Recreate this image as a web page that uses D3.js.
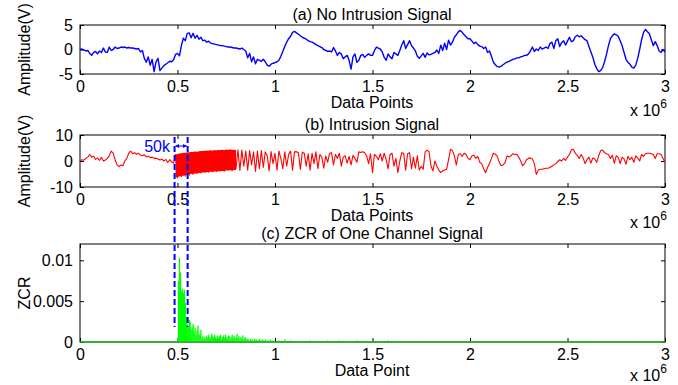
<!DOCTYPE html>
<html>
<head>
<meta charset="utf-8">
<script src="https://cdn.jsdelivr.net/npm/d3@7/dist/d3.min.js"></script>
<style>
  body { margin: 0; background: #fff; }
  svg text { font-family: "Liberation Sans", Arial, sans-serif; font-size: 16px; fill: #000; }
</style>
</head>
<body>
<svg id="chart" width="678" height="385"></svg>
<script>
// x is in units of 1e6 data points; both signals are sampled every STEP
const STEP = 0.01;

const noIntrusion = [
  0.0, 0.1, -0.1, -0.3, -0.2, -0.8, -1.2, -0.6, -0.4, -0.9, -0.3,
  -0.6, 0.3, -0.5, -0.6, 0.5, -0.2, 0.0, 0.5, 0.2, 0.3,
  0.5, 0.4, 0.5, 0.3, 0.4, 0.3, 0.3, 0.2, 0.1, 0.2,
  -0.5, -0.2, -1.8, -2.6, -1.5, -3.2, -2.0, -4.5, -2.5, -1.8,
  -4.3, -3.8, -3.3, -3.0, -2.7, -2.4, -2.5, -2.1, -1.0, -0.8,
  -1.3, 0.8, 2.3, 1.8, 3.3, 3.4, 2.4, 3.3, 2.3, 2.9,
  2.1, 2.5, 1.8, 1.9, 1.5, 1.7, 1.3, 1.2, 1.1, 1.0,
  0.9, 0.8, 0.8, 0.7, 0.6, 0.5, 0.5, 0.4, 0.3, 0.3,
  0.2, 0.1, 0.3, 0.0, -0.3, -1.7, -0.8, -2.5, -1.5, -2.9,
  -2.0, -2.2, -2.4, -2.0, -2.5, -3.2, -3.4, -3.0, -2.8, -2.7,
  -2.5, -2.2, -1.4, -0.4, 0.6, 1.5, 2.2, 2.7, 3.5, 3.7,
  3.4, 3.1, 2.8, 2.5, 2.3, 2.1, 1.8, 1.6, 1.5, 1.3,
  1.0, 0.8, 0.6, 0.4, 0.0, -0.2, -0.4, -0.3, -0.5, 0.4,
  -0.3, -1.2, -0.6, -0.9, -1.9, -1.5, -1.2, -2.2, -4.0, -1.5,
  -0.9, -2.6, -2.2, -1.2, -1.0, -1.6, -1.2, -0.9, -1.2, -1.2,
  -0.2, 0.5, 0.3, 0.1, -0.5, -1.6, -2.2, -0.9, -1.5, -1.9,
  -0.6, -0.9, -1.2, -0.2, 0.9, 1.8, 0.2, 1.0, 1.8, 0.8,
  0.3, -0.3, -1.4, -1.8, -1.3, -0.8, -1.6, -0.7, -1.1, -1.0,
  -0.8, -0.6, -0.1, -0.8, 0.9, -0.2, 1.3, 0.0, 1.9, 0.9,
  1.5, 2.5, 3.0, 3.6, 3.9, 3.5, 3.0, 2.6, 2.2, 2.2,
  1.7, 1.2, 1.5, 1.0, 0.7, 0.6, 0.2, 0.5, -0.6, -0.3,
  -1.4, -2.6, -3.1, -3.5, -3.6, -3.4, -3.1, -2.8, -2.6, -2.4,
  -2.2, -2.0, -1.9, -1.7, -1.7, -1.5, -1.4, -1.2, -1.2, -0.9,
  -0.3, 0.5, -0.4, 0.1, -0.2, 0.5, 0.1, 0.3, 0.5, 0.2,
  1.2, 1.5, 0.2, 1.8, 2.2, 0.6, 1.4, 1.8, 0.9, 1.7,
  2.5, 1.6, 1.8, 2.6, 2.9, 2.6, 2.8, 2.4, 2.0, 1.8,
  0.6, -0.5, -1.6, -3.0, -3.9, -4.5, -4.3, -3.7, -2.5, -1.0,
  0.8, 2.2, 2.8, 3.2, 3.0, 2.7, 1.8, 0.8, -0.6, -2.0,
  -2.6, -3.0, -3.6, -3.8, -3.2, -1.8, 0.0, 2.0, 3.5, 4.1,
  3.6, 3.2, 2.0, 0.8, 1.6, 0.8, -0.3, -0.6, 0.0, -0.5
];

const intrusion = [
  0.0, 0.5, 0.3, 1.0, 1.5, 2.5, 1.5, 1.8, 0.6, 1.2, 0.2,
  1.4, 0.0, 0.4, 1.0, 2.0, 3.8, 3.0, 0.5, -1.5, -2.2,
  -1.5, -1.8, 0.0, 1.0, 3.0, 3.8, 2.8, 3.2, 2.6, 3.0,
  2.2, 2.0, 2.4, 1.6, 1.8, 1.3, 1.5, 1.0, 1.1, 0.8,
  0.4, 0.7, 0.0, 0.6, -0.6, 0.5, -0.3, -0.8, 2.5, -6.4,
  2.8, -6.0, 3.0, -5.8, 3.2, -5.5, 3.3, -5.2, 3.5, -4.8,
  3.6, -4.6, 3.7, -4.4, 3.8, -4.3, 3.9, -4.1, 4.0, -4.0,
  4.1, -3.6, 4.2, -3.9, 4.2, -2.5, 4.3, -3.8, 4.2, -3.0,
  4.3, -3.6, 4.2, -2.0, 3.8, -3.5, 4.0, -1.5, 3.5, -4.0,
  3.8, -3.0, 4.0, -2.5, 3.5, 2.0, -3.8, 3.6, -1.0, 3.0,
  -3.5, 3.8, 1.0, -3.0, 3.5, -2.0, 2.5, 3.8, -3.5, 3.5,
  3.6, 3.2, -3.2, 3.4, 3.0, -2.0, 2.8, -3.5, 3.0, -1.0,
  3.5, -3.0, 2.5, 1.5, -2.8, 2.0, -0.5, 3.0, 3.2, -1.5,
  2.6, 1.0, 3.0, -2.0, 1.5, 2.0, -0.8, 1.8, -1.5, 2.2,
  1.0, -0.5, 3.5, 3.3, 3.6, 3.2, 2.0, -1.0, 2.8, -4.5,
  2.5, 1.8, 0.5, 2.8, 0.0, 3.0, 0.5, -3.0, 2.5, 3.0,
  -2.0, 1.0, -4.5, 0.0, 3.2, 3.0, -3.5, 2.8, 3.2, -3.0,
  1.5, -2.8, 2.0, -3.5, -2.0, -3.2, 3.5, 4.2, 3.5, -2.0,
  -3.8, 0.0, -2.0, -3.5, -4.5, -3.8, -3.5, -3.2, 0.5, 4.5,
  4.0, 2.0, -1.5, 2.5, 2.8, 1.8, 3.0, 2.5, 1.0, 0.5,
  2.0, 2.2, 1.0, 1.8, -0.5, -1.0, -3.0, -4.5, -2.5, -1.0,
  1.0, 3.0, 2.6, 1.8, -0.5, -1.8, -1.5, -0.6, 2.0, 1.5,
  2.0, 2.8, 2.5, 2.6, 1.5, 0.0, -1.8, -1.0, 0.5, 1.0,
  1.2, 0.8, -1.0, -5.2, -3.5, -3.2, -3.2, -3.0, -2.8, -2.8,
  -2.5, -2.0, -1.5, -1.0, -0.2, 0.5, 0.0, 1.0, 0.2, 1.5,
  2.5, 4.2, 4.5, 3.0, 2.2, 1.0, 2.5, 1.2, -1.0, 0.5,
  1.5, -0.8, 1.2, 0.8, -0.5, 2.0, 4.0, 4.2, 3.2, 2.8,
  2.5, 1.0, 2.2, -0.8, 2.0, 1.5, -1.0, 1.5, 0.8, -1.2,
  1.8, 0.5, 1.5, -0.5, 2.0, 1.2, 0.0, 2.5, 1.8, 2.8,
  3.0, 3.0, 2.8, 2.5, 1.0, 2.8, 2.8, 2.5, 1.0, -0.5
];

// envelope of the solid burst right after the intrusion starts
const burstStart = 0.49;
const burstTop = [2.5, 2.7, 2.8, 3.0, 3.1, 3.2, 3.3, 3.4, 3.5, 3.5, 3.6, 3.6,
  3.7, 3.8, 3.8, 3.9, 3.9, 4.0, 4.0, 4.0, 4.1, 4.1, 4.1, 4.2,
  4.2, 4.2, 4.3, 4.3, 4.3, 4.3, 4.2, 4.2];
const burstBot = [-6.4, -6.2, -6.0, -5.8, -5.7, -5.5, -5.3, -5.1, -5.0, -4.9, -4.8, -4.7,
  -4.6, -4.5, -4.4, -4.3, -4.3, -4.2, -4.1, -4.1, -4.0, -4.0, -3.9, -3.9,
  -3.8, -3.8, -3.7, -3.7, -3.6, -3.6, -3.5, -3.5];

const zcrStart = 0.5, zcrStep = 0.005;
const zcrValues = [
  0.0, 0.0075, 0.0103, 0.0085, 0.0062, 0.0065, 0.0060, 0.0064, 0.0048, 0.0031,
  0.0022, 0.0018, 0.0027, 0.0025, 0.0015, 0.0018, 0.0022, 0.0012, 0.0017, 0.0009,
  0.0014, 0.0020, 0.0008, 0.0010, 0.0015, 0.0005, 0.0007, 0.0003, 0.0006, 0.0004,
  0.0008, 0.0005, 0.0009, 0.0006, 0.0004, 0.0010, 0.0007, 0.0005, 0.0009, 0.0006,
  0.0004, 0.0008, 0.0005, 0.0007, 0.0009, 0.0003, 0.0006, 0.0008, 0.0005, 0.0009,
  0.0006, 0.0004, 0.0008, 0.0007, 0.0003, 0.0006, 0.0009, 0.0005, 0.0008, 0.0004,
  0.0006, 0.0010, 0.0005, 0.0007, 0.0003, 0.0006, 0.0004, 0.0008, 0.0003, 0.0005,
  0.0006, 0.0002, 0.0004, 0.0003, 0.0001, 0.0004, 0.0002, 0.0003, 0.0001, 0.0004,
  0.0002, 0.0003, 0.0001, 0.0002, 0.0004, 0.0002, 0.0001, 0.0003, 0.0002, 0.0001,
  0.0003, 0.0002, 0.0001, 0.0002, 0.0001, 0.0003, 0.0001, 0.0002, 0.0001, 0.0002
];
const zcrTailPos = [1.02, 1.05, 1.08, 1.12, 1.18, 1.22, 1.27, 1.33, 1.38, 1.42, 1.47, 1.52, 1.58, 1.63, 1.68, 1.74, 2.86];
const zcrTailVal = [0.0002, 0.0003, 0.0002, 0.0001, 0.0002, 0.0001, 0.0002, 0.0002, 0.0001, 0.0002, 0.0001, 0.0001, 0.0002, 0.0001, 0.0001, 0.0001, 0.0001];

const xTicks = [0, 0.5, 1, 1.5, 2, 2.5, 3];
const markerPos = [0.485, 0.552];

const svg = d3.select('#chart');
const x = d3.scaleLinear().domain([0, 3]).range([80, 665]);

function drawPanel({ top, bottom, domain, yTicks, title, xLabel, yLabel, sciDy }) {
  const y = d3.scaleLinear().domain(domain).range([bottom, top]);
  const g = svg.append('g');
  const fmt = d => String(d);

  g.append('g').attr('transform', `translate(0,${bottom})`)
    .call(d3.axisBottom(x).tickValues(xTicks).tickFormat(fmt).tickSize(-4).tickPadding(7));
  g.append('g').attr('transform', `translate(0,${top})`)
    .call(d3.axisTop(x).tickValues(xTicks).tickFormat('').tickSize(-4));
  g.append('g').attr('transform', 'translate(80,0)')
    .call(d3.axisLeft(y).tickValues(yTicks).tickFormat(fmt).tickSize(-4).tickPadding(7));
  g.append('g').attr('transform', 'translate(665,0)')
    .call(d3.axisRight(y).tickValues(yTicks).tickFormat('').tickSize(-4));
  g.selectAll('.domain').remove();
  g.selectAll('.tick line').attr('stroke', '#000');
  g.selectAll('.tick text').style('font-size', '16px').attr('fill', '#000');

  g.append('rect').attr('x', 80).attr('y', top).attr('width', 585).attr('height', bottom - top)
    .attr('fill', 'none').attr('stroke', '#000').attr('stroke-width', 1);

  g.append('text').attr('x', 372).attr('y', top - 5).attr('text-anchor', 'middle').text(title);
  g.append('text').attr('x', 372).attr('y', bottom + 34).attr('text-anchor', 'middle').text(xLabel);
  g.append('text').attr('transform', `translate(30,${(top + bottom) / 2}) rotate(-90)`)
    .attr('text-anchor', 'middle').text(yLabel);

  const sci = g.append('text').attr('x', 630).attr('y', bottom + sciDy);
  sci.append('tspan').text('x 10');
  sci.append('tspan').attr('dy', -8).style('font-size', '12px').text('6');
  return { g, y };
}

// (a)
const a = drawPanel({ top: 25, bottom: 74, domain: [-5, 5], yTicks: [-5, 0, 5], sciDy: 42,
  title: '(a) No Intrusion Signal', xLabel: 'Data Points', yLabel: 'Amplitude(V)' });
a.g.append('path').datum(noIntrusion)
  .attr('fill', 'none').attr('stroke', '#0000ff').attr('stroke-width', 1.4).attr('stroke-linejoin', 'round')
  .attr('d', d3.line().x((d, i) => x(i * STEP)).y(d => a.y(d)));

// (b)
const b = drawPanel({ top: 135, bottom: 187, domain: [-10, 10], yTicks: [-10, 0, 10], sciDy: 41,
  title: '(b) Intrusion Signal', xLabel: 'Data Points', yLabel: 'Amplitude(V)' });
b.g.append('path').datum(burstTop.map((t, i) => [t, burstBot[i]]))
  .attr('fill', '#ff0000')
  .attr('d', d3.area().x((d, i) => x(burstStart + i * STEP)).y0(d => b.y(d[1])).y1(d => b.y(d[0])));
b.g.append('path').datum(intrusion)
  .attr('fill', 'none').attr('stroke', '#ff0000').attr('stroke-width', 1.1).attr('stroke-linejoin', 'round')
  .attr('d', d3.line().x((d, i) => x(i * STEP)).y(d => b.y(d)));

// (c)
const c = drawPanel({ top: 244, bottom: 342, domain: [0, 0.012], yTicks: [0, 0.005, 0.01], sciDy: 39,
  title: '(c) ZCR of One Channel Signal', xLabel: 'Data Point', yLabel: 'ZCR' });
const zcr = zcrValues.map((v, i) => ({ p: zcrStart + i * zcrStep, v }))
  .concat(zcrTailPos.map((p, i) => ({ p, v: zcrTailVal[i] })));
c.g.append('g').selectAll('rect').data(zcr).enter().append('rect')
  .attr('x', d => x(d.p) - 0.6).attr('width', 1.3)
  .attr('y', d => c.y(d.v)).attr('height', d => c.y(0) - c.y(d.v))
  .attr('fill', '#00ff00');
c.g.append('line').attr('x1', x(0)).attr('x2', x(3)).attr('y1', c.y(0)).attr('y2', c.y(0))
  .attr('stroke', '#22bb22').attr('stroke-width', 1.6);

// the 50k window markers spanning panels (b) and (c)
const ann = svg.append('g');
const defs = svg.append('defs');
defs.append('marker').attr('id', 'ah').attr('viewBox', '0 0 10 10').attr('refX', 9).attr('refY', 5)
  .attr('markerWidth', 4).attr('markerHeight', 4).attr('orient', 'auto-start-reverse')
  .append('path').attr('d', 'M0,0L10,5L0,10z').attr('fill', '#0000ff');
ann.selectAll('line.mark').data(markerPos).enter().append('line').attr('class', 'mark')
  .attr('x1', d => x(d)).attr('x2', d => x(d)).attr('y1', 137).attr('y2', 327)
  .attr('stroke', '#0000ff').attr('stroke-width', 2).attr('stroke-dasharray', '6,3');
ann.append('line')
  .attr('x1', x(markerPos[0]) + 1).attr('x2', x(markerPos[1]) - 1).attr('y1', 146).attr('y2', 146)
  .attr('stroke', '#0000ff').attr('stroke-width', 1)
  .attr('marker-start', 'url(#ah)').attr('marker-end', 'url(#ah)');
ann.append('text').attr('x', 170).attr('y', 152).attr('text-anchor', 'end')
  .style('fill', '#0000ff').text('50k');
</script>
</body>
</html>
